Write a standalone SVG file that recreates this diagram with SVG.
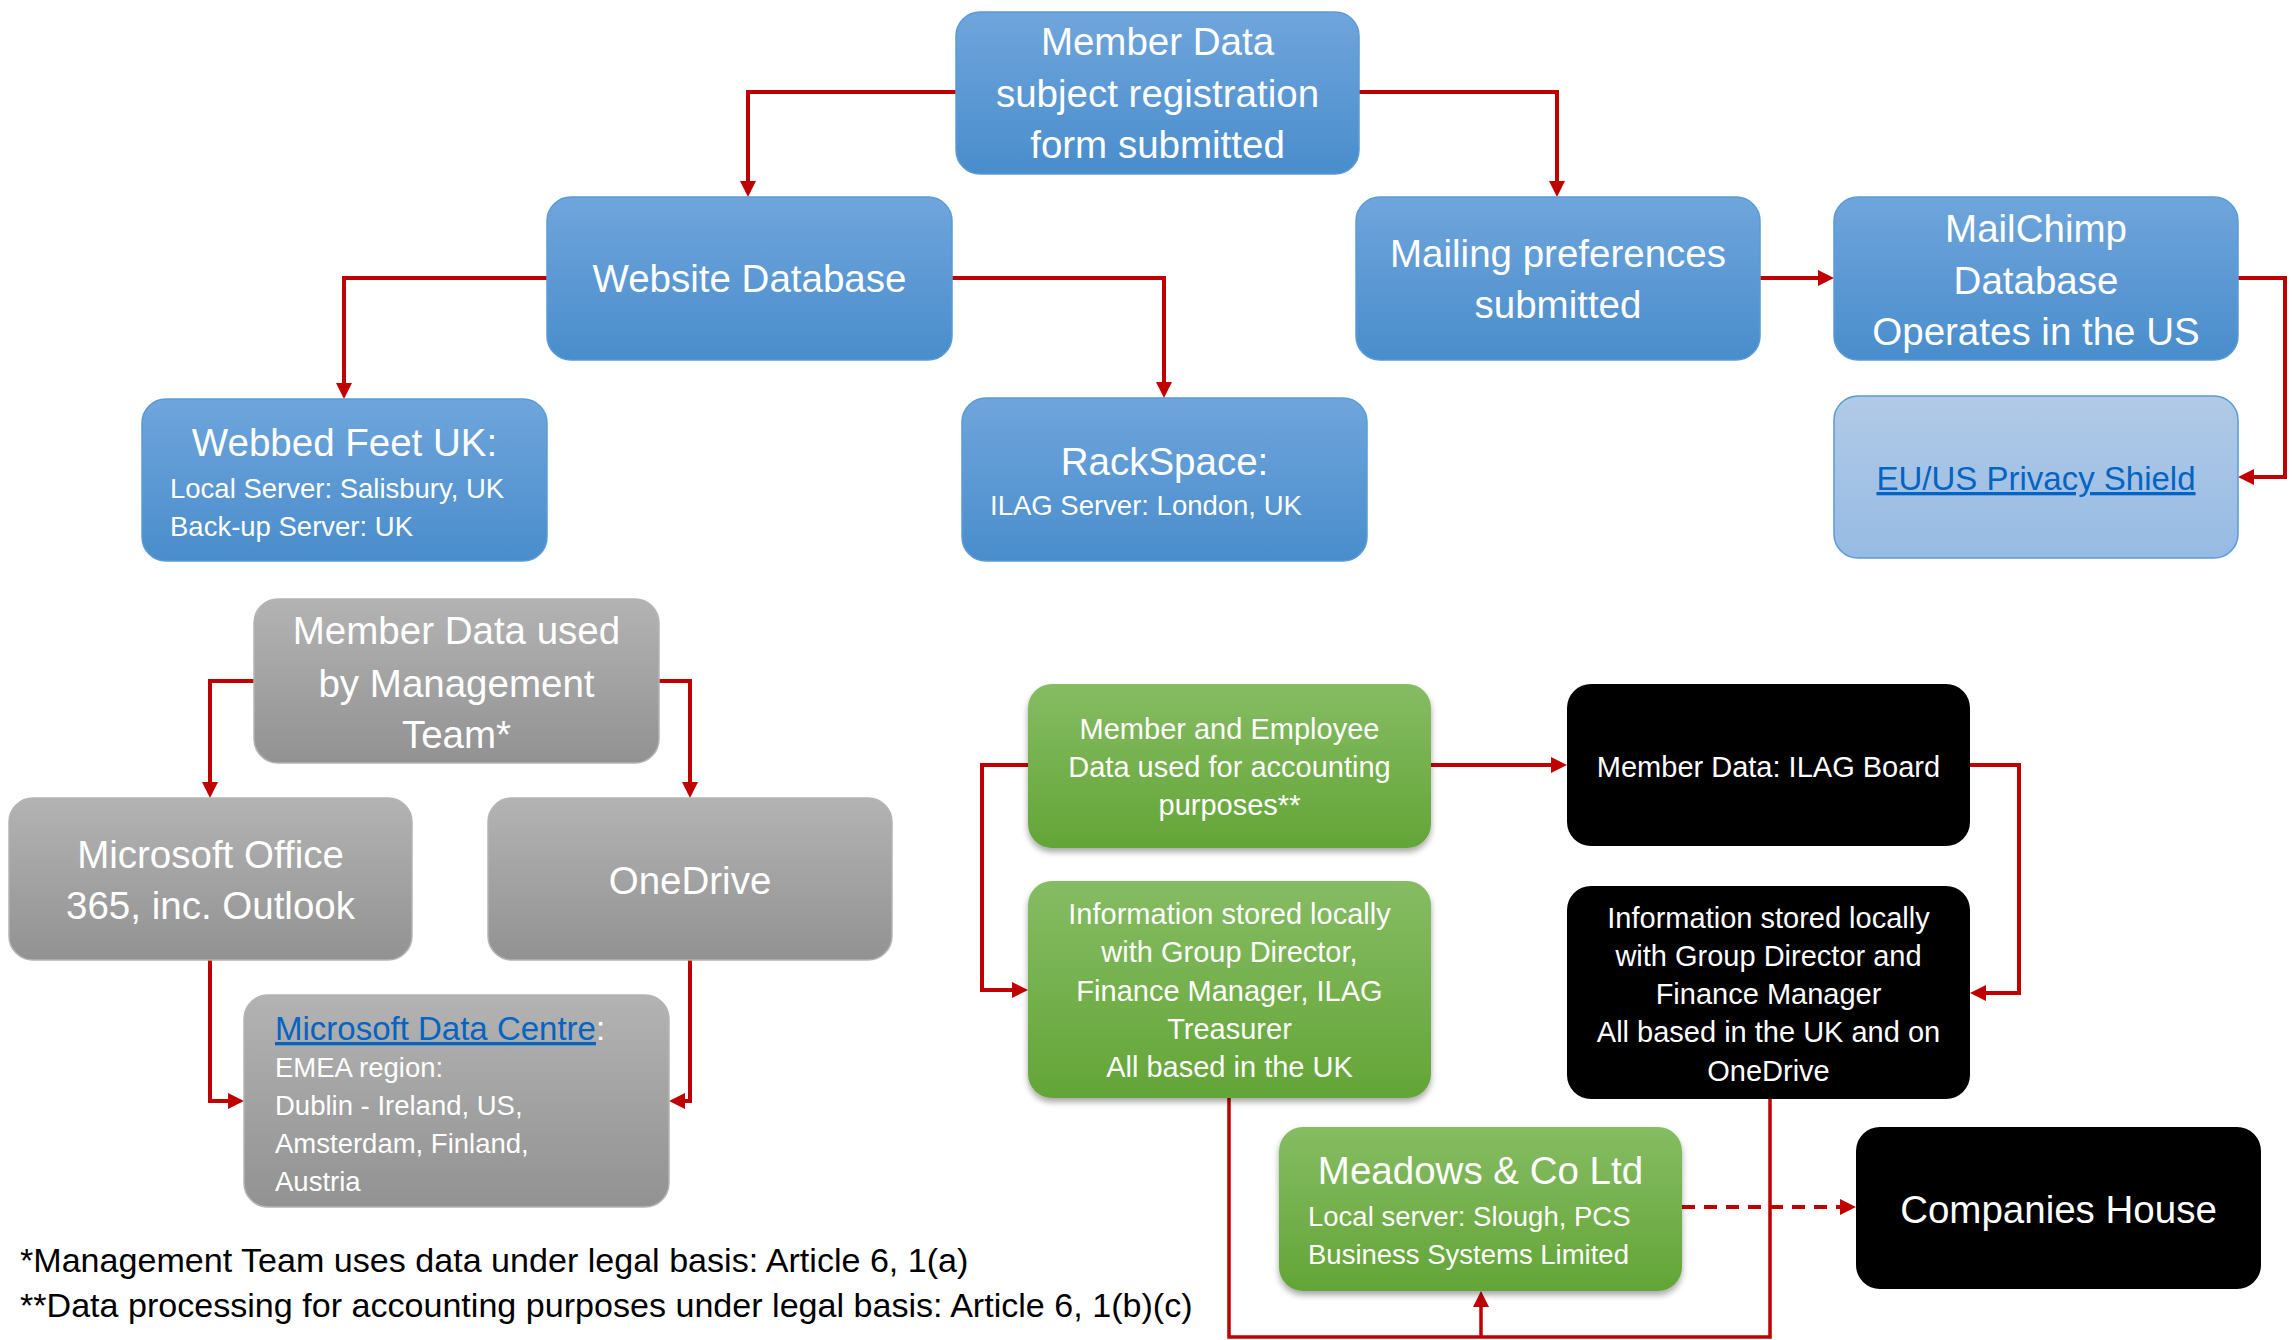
<svg xmlns="http://www.w3.org/2000/svg" width="2292" height="1340" viewBox="0 0 2292 1340">
<style>
text{font-family:"Liberation Sans",Arial,sans-serif;fill:#fff}
.big{font-size:38.5px;text-anchor:middle}
.sm{font-size:29px;text-anchor:middle}
.sub{font-size:27.5px}
.link{fill:#0563c1;text-decoration:underline}
.foot{font-size:34.1px;fill:#000}
.blue{fill:url(#gBlue);stroke:#5b9bd5;stroke-width:1.5}
.gray{fill:url(#gGray);stroke:#b4b4b4;stroke-width:1.5}
.green{fill:url(#gGreen);filter:url(#sh)}
.black{fill:#000}
.light{fill:url(#gLight);stroke:#5b9bd5;stroke-width:1.5}
.c{fill:none;stroke:#c00000;stroke-width:4}
.ct{fill:none;stroke:#c00000;stroke-width:3.5}
</style>
<defs>
<linearGradient id="gBlue" x1="0" y1="0" x2="0" y2="1"><stop offset="0" stop-color="#6fa5dc"/><stop offset="1" stop-color="#498dcc"/></linearGradient>
<linearGradient id="gGray" x1="0" y1="0" x2="0" y2="1"><stop offset="0" stop-color="#b3b3b3"/><stop offset="1" stop-color="#929292"/></linearGradient>
<linearGradient id="gGreen" x1="0" y1="0" x2="0" y2="1"><stop offset="0" stop-color="#86bc63"/><stop offset="1" stop-color="#63a537"/></linearGradient>
<linearGradient id="gLight" x1="0" y1="0" x2="0" y2="1"><stop offset="0" stop-color="#b1cae7"/><stop offset="1" stop-color="#96bbe4"/></linearGradient>
<filter id="sh" x="-10%" y="-10%" width="120%" height="130%"><feDropShadow dx="0" dy="4" stdDeviation="3" flood-color="#000" flood-opacity="0.35"/></filter>
<marker id="arr" viewBox="0 0 16 16" refX="4" refY="8" markerWidth="16" markerHeight="16" markerUnits="userSpaceOnUse" orient="auto"><path d="M0,0 L16,8 L0,16 z" fill="#c00000"/></marker>
</defs>

<g id="connectors">
<path class="c" d="M956,92 H748 V185" marker-end="url(#arr)"/>
<path class="c" d="M1359,92 H1557 V185" marker-end="url(#arr)"/>
<path class="c" d="M547,278 H344 V387" marker-end="url(#arr)"/>
<path class="c" d="M952,278 H1164 V386" marker-end="url(#arr)"/>
<path class="c" d="M1760,278 H1822" marker-end="url(#arr)"/>
<path class="c" d="M2238,278 H2285 V477 H2250" marker-end="url(#arr)"/>
<path class="c" d="M254,681 H210 V786" marker-end="url(#arr)"/>
<path class="c" d="M659,681 H690 V786" marker-end="url(#arr)"/>
<path class="c" d="M210,960 V1101 H232" marker-end="url(#arr)"/>
<path class="c" d="M690,960 V1101 H681" marker-end="url(#arr)"/>
<path class="c" d="M1028,765 H982 V990 H1016" marker-end="url(#arr)"/>
<path class="c" d="M1431,765 H1555" marker-end="url(#arr)"/>
<path class="c" d="M1970,765 H2019 V993 H1982" marker-end="url(#arr)"/>
<path class="ct" d="M1229,1098 V1337 H1770 V1099"/>
<path class="ct" d="M1481,1337 V1303" marker-end="url(#arr)"/>
<path class="c" d="M1682,1207 H1844" stroke-dasharray="13 9" marker-end="url(#arr)"/>
</g>

<g id="n-member-data">
<rect class="blue" x="956" y="12" width="403" height="162" rx="24"/>
<text class="big" x="1157.5" y="55">Member Data</text>
<text class="big" x="1157.5" y="107">subject registration</text>
<text class="big" x="1157.5" y="158">form submitted</text>
</g>
<g id="n-website-db">
<rect class="blue" x="547" y="197" width="405" height="163" rx="24"/>
<text class="big" x="749.5" y="292">Website Database</text>
</g>
<g id="n-mailing">
<rect class="blue" x="1356" y="197" width="404" height="163" rx="24"/>
<text class="big" x="1558" y="267">Mailing preferences</text>
<text class="big" x="1558" y="318">submitted</text>
</g>
<g id="n-mailchimp">
<rect class="blue" x="1834" y="197" width="404" height="163" rx="24"/>
<text class="big" x="2036" y="242">MailChimp</text>
<text class="big" x="2036" y="294">Database</text>
<text class="big" x="2036" y="345">Operates in the US</text>
</g>
<g id="n-privacy">
<rect class="light" x="1834" y="396" width="404" height="162" rx="24"/>
<text class="big link" x="2036" y="490" style="font-size:33px">EU/US Privacy Shield</text>
</g>
<g id="n-webbed">
<rect class="blue" x="142" y="399" width="405" height="162" rx="24"/>
<text class="big" x="344.5" y="456">Webbed Feet UK:</text>
<text class="sub" x="170" y="498">Local Server: Salisbury, UK</text>
<text class="sub" x="170" y="536">Back-up Server: UK</text>
</g>
<g id="n-rackspace">
<rect class="blue" x="962" y="398" width="405" height="163" rx="24"/>
<text class="big" x="1164.5" y="475">RackSpace:</text>
<text class="sub" x="990" y="515">ILAG Server: London, UK</text>
</g>

<g id="n-mgmt">
<rect class="gray" x="254" y="599" width="405" height="164" rx="24"/>
<text class="big" x="456.5" y="644">Member Data used</text>
<text class="big" x="456.5" y="697">by Management</text>
<text class="big" x="456.5" y="748">Team*</text>
</g>
<g id="n-office">
<rect class="gray" x="9" y="798" width="403" height="162" rx="24"/>
<text class="big" x="210.5" y="868">Microsoft Office</text>
<text class="big" x="210.5" y="919">365, inc. Outlook</text>
</g>
<g id="n-onedrive">
<rect class="gray" x="488" y="798" width="404" height="162" rx="24"/>
<text class="big" x="690" y="894">OneDrive</text>
</g>
<g id="n-datacentre">
<rect class="gray" x="244" y="995" width="425" height="212" rx="24"/>
<text x="275" y="1040" style="font-size:33px"><tspan class="link">Microsoft Data Centre</tspan>:</text>
<text class="sub" x="275" y="1077">EMEA region:</text>
<text class="sub" x="275" y="1115">Dublin - Ireland, US,</text>
<text class="sub" x="275" y="1153">Amsterdam, Finland,</text>
<text class="sub" x="275" y="1191">Austria</text>
</g>

<g id="n-accounting">
<rect class="green" x="1028" y="684" width="403" height="164" rx="24"/>
<text class="sm" x="1229.5" y="739">Member and Employee</text>
<text class="sm" x="1229.5" y="777">Data used for accounting</text>
<text class="sm" x="1229.5" y="815">purposes**</text>
</g>
<g id="n-info-green">
<rect class="green" x="1028" y="881" width="403" height="217" rx="24"/>
<text class="sm" x="1229.5" y="924">Information stored locally</text>
<text class="sm" x="1229.5" y="962">with Group Director,</text>
<text class="sm" x="1229.5" y="1001">Finance Manager, ILAG</text>
<text class="sm" x="1229.5" y="1039">Treasurer</text>
<text class="sm" x="1229.5" y="1077">All based in the UK</text>
</g>
<g id="n-board">
<rect class="black" x="1567" y="684" width="403" height="162" rx="24"/>
<text class="sm" x="1768.5" y="777">Member Data: ILAG Board</text>
</g>
<g id="n-info-black">
<rect class="black" x="1567" y="886" width="403" height="213" rx="24"/>
<text class="sm" x="1768.5" y="928">Information stored locally</text>
<text class="sm" x="1768.5" y="966">with Group Director and</text>
<text class="sm" x="1768.5" y="1004">Finance Manager</text>
<text class="sm" x="1768.5" y="1042">All based in the UK and on</text>
<text class="sm" x="1768.5" y="1081">OneDrive</text>
</g>
<g id="n-meadows">
<rect class="green" x="1279" y="1127" width="403" height="164" rx="24"/>
<text class="big" x="1480.5" y="1184">Meadows &amp; Co Ltd</text>
<text class="sub" x="1308" y="1226">Local server: Slough, PCS</text>
<text class="sub" x="1308" y="1264">Business Systems Limited</text>
</g>
<g id="n-companies">
<rect class="black" x="1856" y="1127" width="405" height="162" rx="24"/>
<text class="big" x="2058.5" y="1223">Companies House</text>
</g>

<g id="footnotes">
<text class="foot" x="20" y="1272">*Management Team uses data under legal basis: Article 6, 1(a)</text>
<text class="foot" x="20" y="1317">**Data processing for accounting purposes under legal basis: Article 6, 1(b)(c)</text>
</g>
</svg>
